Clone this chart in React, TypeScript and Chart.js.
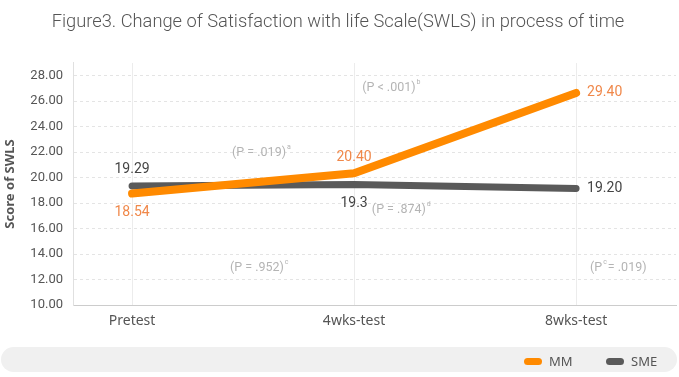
import React, { useEffect, useRef } from "react";
import { Chart, registerables } from "chart.js";

Chart.register(...registerables);

const categories = ["Pretest", "4wks-test", "8wks-test"];
const mmValues = [18.75, 20.35, 26.65];
const smeValues = [19.35, 19.45, 19.15];
const mmLabels = ["18.54", "20.40", "29.40"];
const smeLabels = ["19.29", "19.3", "19.20"];
const mmLabelPlace = ["below", "above", "right"];
const smeLabelPlace = ["above", "below", "right"];
const yTicks = [10, 12, 14, 16, 18, 20, 22, 24, 26, 28];
const seriesNames = ["MM", "SME"];
const seriesColors = ["#ff8a00", "#5a5a5a"];
const labelColors = ["#f0884a", "#444444"];

const notePre = ["(P = .019)", "(P < .001)", "(P = .874)", "(P = .952)", "(P"];
const noteSup = ["a", "b", "d", "c", "c"];
const notePost = ["", "", "", "", "= .019)"];
const noteX = [0.585, 1.17, 1.215, 0.575, 2.19];
const noteY = [21.95, 27.05, 17.45, 12.9, 12.9];

const FONT = "Roboto, 'Noto Sans', sans-serif";

const valueLabelsPlugin = {
  id: "valueLabels",
  afterDatasetsDraw(chart: any) {
    const ctx = chart.ctx;
    const texts = [mmLabels, smeLabels];
    const places = [mmLabelPlace, smeLabelPlace];
    ctx.save();
    ctx.font = `14px ${FONT}`;
    ctx.textBaseline = "middle";
    chart.data.datasets.forEach((ds: any, di: number) => {
      const meta = chart.getDatasetMeta(di);
      meta.data.forEach((pt: any, i: number) => {
        const place = places[di][i];
        ctx.fillStyle = labelColors[di];
        if (place === "right") {
          ctx.textAlign = "left";
          ctx.fillText(texts[di][i], pt.x + 11, pt.y);
        } else if (place === "above") {
          ctx.textAlign = "center";
          ctx.fillText(texts[di][i], pt.x, pt.y - 16);
        } else {
          ctx.textAlign = "center";
          ctx.fillText(texts[di][i], pt.x, pt.y + 19);
        }
      });
    });
    ctx.restore();
  },
};

const notesPlugin = {
  id: "notes",
  afterDatasetsDraw(chart: any) {
    const ctx = chart.ctx;
    const xs = chart.scales.x;
    const ys = chart.scales.y;
    ctx.save();
    ctx.fillStyle = "#b4b4b4";
    ctx.textBaseline = "middle";
    notePre.forEach((pre, i) => {
      const mainFont = `12.5px ${FONT}`;
      const supFont = `7px ${FONT}`;
      ctx.font = mainFont;
      const wPre = ctx.measureText(pre).width;
      const wPost = ctx.measureText(notePost[i]).width;
      ctx.font = supFont;
      const wSup = ctx.measureText(noteSup[i]).width + 2;
      const total = wPre + wSup + wPost;
      const cx = xs.getPixelForValue(noteX[i]);
      const cy = ys.getPixelForValue(noteY[i]);
      let x = cx - total / 2;
      ctx.textAlign = "left";
      ctx.font = mainFont;
      ctx.fillText(pre, x, cy);
      x += wPre + 1;
      ctx.font = supFont;
      ctx.fillText(noteSup[i], x, cy - 6);
      x += wSup - 1;
      ctx.font = mainFont;
      if (notePost[i]) ctx.fillText(notePost[i], x, cy);
    });
    ctx.restore();
  },
};

const legendBarPlugin = {
  id: "legendBar",
  afterDraw(chart: any) {
    const ctx = chart.ctx;
    ctx.save();
    ctx.fillStyle = "#f0f0f0";
    ctx.beginPath();
    ctx.roundRect(1, 347, 676, 25, 12.5);
    ctx.fill();
    const itemX = [524, 606];
    ctx.font = `13px 'Noto Sans', sans-serif`;
    ctx.textBaseline = "middle";
    ctx.textAlign = "left";
    chart.data.datasets.forEach((ds: any, i: number) => {
      ctx.fillStyle = ds.borderColor;
      ctx.beginPath();
      ctx.roundRect(itemX[i], 358, 18, 7, 3.5);
      ctx.fill();
      ctx.fillStyle = "#555555";
      ctx.fillText(ds.label, itemX[i] + 25, 362);
    });
    ctx.restore();
  },
};

export default function App() {
  const ref = useRef<HTMLCanvasElement>(null);
  useEffect(() => {
    if (!ref.current) return;
    const datasets = [mmValues, smeValues].map((vals, di) => ({
      label: seriesNames[di],
      data: vals.map((v, i) => ({ x: i, y: v })),
      borderColor: seriesColors[di],
      backgroundColor: seriesColors[di],
      borderWidth: di === 0 ? 8 : 7,
      borderCapStyle: "round" as const,
      borderJoinStyle: "round" as const,
      pointRadius: 0,
      tension: 0,
      fill: false,
    }));
    const chart = new Chart(ref.current, {
      type: "line",
      data: { datasets },
      options: {
        animation: false,
        responsive: false,
        layout: { padding: { top: 0, left: 0, right: 3, bottom: 32 } },
        plugins: {
          legend: { display: false },
          tooltip: { enabled: false },
          title: {
            display: true,
            text: "Figure3. Change of Satisfaction with life Scale(SWLS) in process of time",
            color: "#555555",
            font: { family: FONT, size: 18.3, weight: "300" as any },
            padding: { top: 11, bottom: 30 },
          },
        },
        scales: {
          x: {
            type: "linear",
            min: -0.266,
            max: 2.45,
            afterBuildTicks: (s: any) => {
              s.ticks = categories.map((_, i) => ({ value: i }));
            },
            afterFit: (s: any) => {
              s.height = 40;
            },
            ticks: {
              callback: (v: any) => categories[Math.round(Number(v))],
              color: "#555555",
              font: { family: "'Noto Sans', sans-serif", size: 14 },
              padding: 8,
              maxRotation: 0,
            },
            grid: { color: "#ececec", drawTicks: false },
            border: { color: "#cccccc" },
          },
          y: {
            min: 10,
            max: 29,
            afterBuildTicks: (s: any) => {
              s.ticks = yTicks.map((v) => ({ value: v }));
            },
            afterFit: (s: any) => {
              s.width = 73;
            },
            ticks: {
              callback: (v: any) => Number(v).toFixed(2),
              color: "#555555",
              font: { family: FONT, size: 13 },
              padding: 10,
            },
            grid: { color: "#e4e4e4", drawTicks: false },
            border: { color: "#e0e0e0", dash: [3, 3] },
            title: {
              display: true,
              text: "Score of SWLS",
              color: "#555555",
              font: { family: "'Noto Sans', sans-serif", size: 13, weight: "bold" as any },
              padding: { top: 2, bottom: 0 },
            },
          },
        },
      },
      plugins: [valueLabelsPlugin, notesPlugin, legendBarPlugin],
    });
    return () => chart.destroy();
  }, []);
  return (
    <div style={{ position: "fixed", left: 0, top: 0, width: 679, height: 377, background: "#fff" }}>
      <canvas ref={ref} width={679} height={377} />
    </div>
  );
}
